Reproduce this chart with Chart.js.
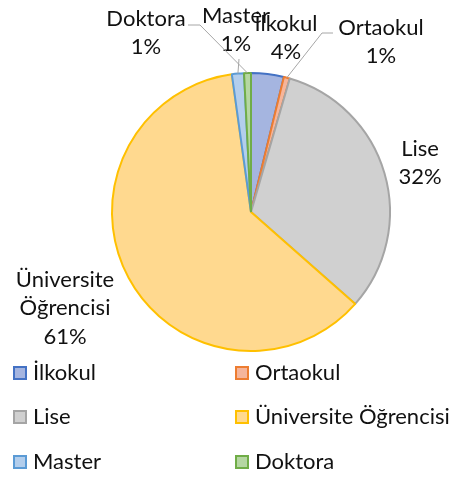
<!DOCTYPE html>
<html>
<head>
<meta charset="utf-8">
<script src="https://cdn.jsdelivr.net/npm/chart.js@4"></script>
<style>
	body { margin: 0; background: #fff; }
	#wrap { width: 455px; height: 480px; }
</style>
</head>
<body>
<div id="wrap"><canvas id="chart"></canvas></div>
<script>
const categories = ['İlkokul', 'Ortaokul', 'Lise', 'Üniversite Öğrencisi', 'Master', 'Doktora'];
const values = [3.8, 0.7, 32.0, 61.3, 1.4, 0.8];
// label text lines shown next to the pie (last line is the percent)
const labelLines = [['İlkokul'], ['Ortaokul'], ['Lise'], ['Üniversite', 'Öğrencisi'], ['Master'], ['Doktora']];

const fills = ['#a5b5e0', '#f5b59b', '#d0d0d0', '#ffd98f', '#b3ceec', '#b5d7a2'];
const borders = ['#4472c4', '#ed7d31', '#a5a5a5', '#ffc000', '#5b9bd5', '#70ad47'];

const fontFamily = 'Lato, "Open Sans", sans-serif';
const fontSize = 22;
const textColor = '#111';

// label block centres and leader lines, relative to the pie centre
const labelLayout = [
	{ dx: 35, dy: -174 },
	{ dx: 130, dy: -170, leader: [[82, -179], [71, -179]] },
	{ dx: 169, dy: -49 },
	{ dx: -186, dy: 96 },
	{ dx: -15, dy: -182, leader: [[-12, -153]] },
	{ dx: -105, dy: -179, leader: [[-63, -187], [-51, -187]] },
];

const pieLabels = {
	id: 'pieLabels',
	afterDatasetsDraw(chart) {
		const ctx = chart.ctx;
		const meta = chart.getDatasetMeta(0);
		const total = values.reduce((a, b) => a + b, 0);
		ctx.save();
		ctx.font = `${fontSize}px ${fontFamily}`;
		ctx.textAlign = 'center';
		ctx.textBaseline = 'middle';
		meta.data.forEach((arc, i) => {
			const p = arc.getProps(['x', 'y', 'startAngle', 'endAngle', 'outerRadius'], true);
			const lay = labelLayout[i];
			const mid = (p.startAngle + p.endAngle) / 2;
			if (lay.leader) {
				ctx.strokeStyle = '#a6a6a6';
				ctx.lineWidth = 1;
				ctx.beginPath();
				lay.leader.forEach(([lx, ly], k) => {
					if (k === 0) ctx.moveTo(p.x + lx, p.y + ly);
					else ctx.lineTo(p.x + lx, p.y + ly);
				});
				ctx.lineTo(p.x + Math.cos(mid) * p.outerRadius, p.y + Math.sin(mid) * p.outerRadius);
				ctx.stroke();
			}
			const lines = labelLines[i].concat([Math.round(values[i] / total * 100) + '%']);
			const lh = 28.5;
			const top = p.y + lay.dy - (lines.length - 1) * lh / 2;
			ctx.fillStyle = textColor;
			lines.forEach((t, k) => ctx.fillText(t, p.x + lay.dx, top + k * lh));
		});
		ctx.restore();
	},
};

const legendBox = {
	id: 'legendBox',
	afterDraw(chart) {
		const ctx = chart.ctx;
		const cols = [13, 235];
		const rows = [373, 417, 462];
		ctx.save();
		ctx.font = `${fontSize}px ${fontFamily}`;
		ctx.textBaseline = 'middle';
		ctx.textAlign = 'left';
		categories.forEach((name, i) => {
			const x = cols[i % 2];
			const y = rows[Math.floor(i / 2)];
			ctx.fillStyle = fills[i];
			ctx.fillRect(x + 1, y - 6, 12, 12);
			ctx.strokeStyle = borders[i];
			ctx.lineWidth = 2;
			ctx.strokeRect(x + 1, y - 6, 12, 12);
			ctx.fillStyle = textColor;
			ctx.fillText(name, x + 20, y);
		});
		ctx.restore();
	},
};

new Chart(document.getElementById('chart'), {
	type: 'pie',
	data: {
		labels: categories,
		datasets: [{
			data: values,
			backgroundColor: fills,
			borderColor: borders,
			borderWidth: 2,
			hoverOffset: 0,
		}],
	},
	options: {
		responsive: true,
		maintainAspectRatio: false,
		animation: false,
		layout: { padding: { top: 72, bottom: 128, left: 111, right: 64 } },
		plugins: {
			legend: { display: false },
			tooltip: { enabled: false },
		},
	},
	plugins: [pieLabels, legendBox],
});
</script>
</body>
</html>
